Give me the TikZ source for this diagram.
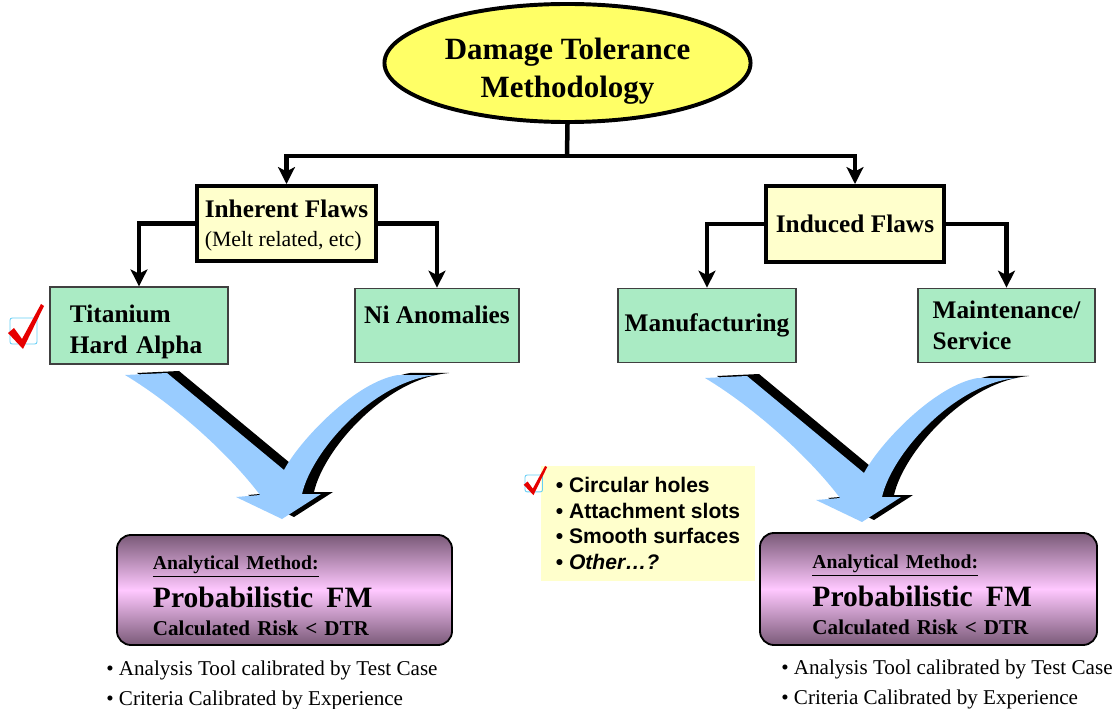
\documentclass[tikz,border=0pt]{standalone}
\usepackage{fontspec}
\setmainfont{Liberation Serif}
\newfontfamily\arialfont{Liberation Sans}
\usetikzlibrary{shapes.geometric,arrows.meta,positioning}

\definecolor{ellyellow}{RGB}{255,255,102}
\definecolor{paleyellow}{RGB}{255,255,204}
\definecolor{boxgreen}{RGB}{170,235,196}
\definecolor{arrowblue}{RGB}{153,204,255}
\definecolor{mauvedark}{RGB}{122,90,120}
\definecolor{mauvelight}{RGB}{255,200,255}
\definecolor{tickred}{RGB}{230,0,0}

\tikzset{
  flowline/.style={line width=3.2pt},
  flowarrow/.style={flowline,-{Stealth[length=12pt,width=12pt,inset=3pt]}},
  titleell/.style={ellipse,draw,line width=2.8pt,fill=ellyellow,minimum width=9.15cm,
    minimum height=2.75cm,inner sep=0pt,align=center,font=\fontsize{22}{27.5}\selectfont\bfseries},
  flawbox/.style={rectangle,draw,line width=2.8pt,fill=paleyellow,minimum width=4.475cm,
    minimum height=1.875cm,align=left,font=\fontsize{18}{20.5}\selectfont\bfseries},
  greenbox/.style={rectangle,draw=black!75,line width=1.2pt,fill=boxgreen,minimum width=4.45cm,
    minimum height=1.85cm,align=left,font=\fontsize{18}{22}\selectfont\bfseries},
  resultbox/.style={rectangle,draw,line width=1.3pt,rounded corners=10pt,
    top color=mauvedark,bottom color=mauvedark,middle color=mauvelight,
    minimum width=8.375cm,minimum height=2.75cm,align=left,inner xsep=0pt,
    font=\fontsize{15}{23.4}\selectfont\bfseries},
  bulletbox/.style={rectangle,fill=paleyellow,minimum width=5.35cm,minimum height=2.875cm,
    align=left,font=\arialfont\bfseries\fontsize{15}{18.1}\selectfont},
  notes/.style={align=left,anchor=north west,inner sep=0pt,font=\fontsize{15}{21}\selectfont},
  mergearrow/.pic={
    \fill[arrowblue,preaction={fill=black,transform canvas={xshift=0.3cm,yshift=0.05cm}}]
      (125,375) .. controls (175,405) and (230,455) .. (260,495)
      -- (236,497) -- (282,519) -- (321,494) -- (302,494)
      .. controls (312,450) and (375,380) .. (437,375)
      -- (398,375)
      .. controls (355,382) and (300,440) .. (284,470)
      -- (167,373) -- cycle;
  },
  tickmark/.pic={
    \draw[cyan!60,line width=0.6pt,rounded corners=1.5pt] (0,0) rectangle (27,26);
    \fill[tickred] (-2,15) -- (4,10) -- (12,21) -- (31,-14) -- (34,-12) -- (13,31) -- cycle;
  }
}

\begin{document}
\begin{tikzpicture}[x=0.025cm,y=-0.025cm]
  \useasboundingbox (0,0) rectangle (1120,709);

  % big merging arrows
  \pic at (0,0) {mergearrow};
  \pic at (580,3) {mergearrow};

  % top of the tree
  \node[titleell] (dtm) at (567.5,63) {\rule{0pt}{27pt}Damage Tolerance\\Methodology};
  \node[flawbox] (inherent) at (286.5,223.5) {\rule{0pt}{15pt}Inherent Flaws\\{\mdseries\fontsize{15.5}{17}\selectfont (Melt related, etc)}};
  \node[flawbox,minimum width=4.45cm,minimum height=1.9cm] (induced) at (855,224) {Induced Flaws};

  \node[greenbox,text width=3.45cm] (titanium) at (139,325.5) {\rule{0pt}{22pt}Titanium\\Hard Alpha};
  \node[greenbox,minimum width=4.1cm,text depth=15pt] (ni) at (437,325.5) {Ni Anomalies};
  \node[greenbox] (manuf) at (707,325.5) {Manufacturing};
  \node[greenbox,minimum width=4.425cm] (maint) at (1006.5,325.5) {Maintenance/\\Service};

  \coordinate (split) at (567,156);
  \draw[flowline] (dtm.south) -- (split);
  \draw[flowarrow] (split) -| (inherent.north);
  \draw[flowarrow] (split) -| (induced.north);
  \draw[flowarrow] (inherent.west) -| (titanium.north);
  \draw[flowarrow] (inherent.east) -| (ni.north);
  \draw[flowarrow] (induced.west) -| (manuf.north);
  \draw[flowarrow] (induced.east) -| (maint.north);

  % analysis boxes
  \node[resultbox,text width=6.575cm] (leftpm) at (284.5,590)
    {{\fontsize{14}{16}\selectfont\rule{0pt}{18pt}\underline{Analytical Method:}}\\[3.5pt]
     {\fontsize{21}{24}\selectfont Probabilistic\hspace{0.45em}FM}\\[-3.5pt]
     Calculated Risk < DTR};
  \node[resultbox,minimum width=8.425cm,minimum height=2.8cm,text width=5.8cm] (rightpm) at (928.5,589)
    {{\fontsize{14}{16}\selectfont\rule{0pt}{18pt}\underline{Analytical Method:}}\\[3.5pt]
     {\fontsize{21}{24}\selectfont Probabilistic\hspace{0.45em}FM}\\[-3.5pt]
     Calculated Risk < DTR};

  \node[bulletbox] (geom) at (648,523.5)
    {• Circular holes\\• Attachment slots\\• Smooth surfaces\\• \textit{Other…?}};

  \node[notes] (leftnotes) at (106,661)
    {• Analysis Tool calibrated by Test Case\\• Criteria Calibrated by Experience};
  \node[notes] (rightnotes) at (781,660)
    {• Analysis Tool calibrated by Test Case\\• Criteria Calibrated by Experience};

  % check marks
  \pic at (10,318) {tickmark};
  \pic[scale=0.65] at (525,475) {tickmark};
\end{tikzpicture}
\end{document}
